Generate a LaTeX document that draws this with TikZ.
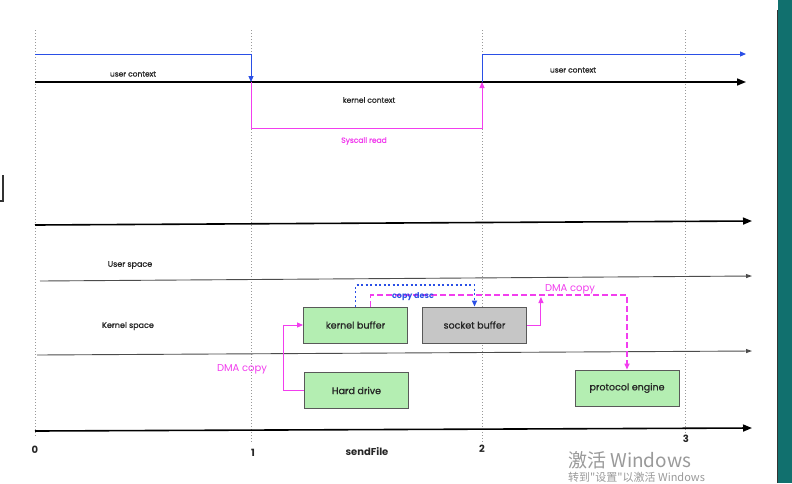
\documentclass[tikz,border=0pt]{standalone}
\usepackage{fontspec}
\setmainfont{Poppins}
\newfontfamily\medfont{Poppins}[FakeBold=0.8]
\newfontfamily\cjk{Noto Sans CJK SC}
\usetikzlibrary{arrows.meta}
\definecolor{boxgreen}{HTML}{B4EEB2}
\definecolor{boxgray}{HTML}{C6C6C6}
\definecolor{pinkc}{HTML}{F23EEE}
\definecolor{bluec}{HTML}{2A4FE6}
\definecolor{tealbar}{HTML}{11706E}
\definecolor{wm}{HTML}{9A9A9A}
\begin{document}
\begin{tikzpicture}[x=1pt,y=-1pt,
  tick/.style={draw=gray!80, line width=0.9pt, dash pattern=on 1pt off 2pt},
  axis/.style={draw=black, line width=1.6pt, -{Triangle[length=9pt,width=7pt]}},
  thinaxis/.style={draw=black!70, line width=0.9pt, -{Triangle[length=6pt,width=4pt]}},
  bluepath/.style={draw=bluec, line width=1pt, -{Triangle[length=6pt,width=5pt]}},
  pinkpath/.style={draw=pinkc, line width=1pt, -{Triangle[length=6pt,width=5pt]}},
  pinkdash/.style={color=pinkc, line width=1.6pt, dash pattern=on 6pt off 3pt, -{Triangle[length=6pt,width=5pt]}},
  bluedot/.style={color=bluec, line width=1.6pt, dash pattern=on 2pt off 2.5pt, -{Triangle[length=6pt,width=5pt]}},
  lbl/.style={font=\medfont\fontsize{7.5}{8}\selectfont, text=black!85},
  spacelbl/.style={font=\medfont\fontsize{8}{9}\selectfont, text=black!85},
  ticklbl/.style={font=\bfseries\fontsize{10}{11}\selectfont, text=black!85},
  pinklbl/.style={font=\fontsize{10}{11}\selectfont, text=pinkc},
  boxnode/.style={draw=black!65, line width=0.9pt, fill=boxgreen, minimum width=104pt, minimum height=36pt, inner sep=0pt, font=\medfont\fontsize{9.5}{11}\selectfont, text=black!85}
]
\useasboundingbox (0,0) rectangle (792,483);
\clip (0,0) rectangle (792,483);
\fill[white] (0,0) rectangle (792,483);
% right edge bar
\fill[tealbar] (778,0) rectangle (792,483);
\draw[black!80, line width=1pt] (777.5,10) -- (777.5,483);
% left bracket fragment
\draw[black!80, line width=1.3pt] (0,201) -- (3,201) -- (3,175);

% time ticks
\coordinate (c0t) at (35,30);  \coordinate (c0b) at (35,436);
\coordinate (c1t) at (251,30); \coordinate (c1b) at (251,442);
\coordinate (c2t) at (482,30); \coordinate (c2b) at (482,442);
\coordinate (c3t) at (685,30); \coordinate (c3b) at (685,442);
\draw[tick] (c0t) -- (c0b);
\draw[tick] (c1t) -- (c1b);
\draw[tick] (c2t) -- (c2b);
\draw[tick] (c3t) -- (c3b);

% context axis
\coordinate (ax0) at (35,82);  \coordinate (ax1) at (746,82);
\coordinate (k1) at (251,82);  \coordinate (k2) at (482,82);
\coordinate (u0) at (35,54);   \coordinate (u1) at (251,54);
\coordinate (u2) at (482,54);  \coordinate (u3) at (746,54);
\coordinate (s1) at (251,128); \coordinate (s2) at (482,128);
\draw[axis] (ax0) -- (ax1);
\draw[bluepath] (u0) -- (u1) -- (k1);
\draw[bluepath] (k2) -- (u2) -- (u3);
\draw[pinkpath] (k1) -- (s1) -- (s2) -- (k2);
\node[lbl] (ucl) at (133,74) {user context};
\node[lbl] (kcl) at (369,100) {kernel context};
\node[lbl] (ucr) at (573,70) {user context};
\node[lbl, text=pinkc] (sys) at (364,141) {Syscall read};

% space axes
\coordinate (m0) at (35,225);  \coordinate (m1) at (752,221);
\coordinate (us0) at (40,281); \coordinate (us1) at (752,276);
\coordinate (ks0) at (37,355); \coordinate (ks1) at (752,351);
\coordinate (b0) at (35,431);  \coordinate (b1) at (752,428);
\draw[axis] (m0) -- (m1);
\draw[thinaxis] (us0) -- (us1);
\draw[thinaxis] (ks0) -- (ks1);
\draw[axis] (b0) -- (b1);
\node[spacelbl] (usl) at (130,265) {User space};
\node[spacelbl] (ksl) at (128,326) {Kernel space};

% boxes
\node[boxnode] (kb) at (355.5,325) {kernel buffer};
\node[boxnode, fill=boxgray] (sb) at (474.5,325) {socket buffer};
\node[boxnode] (hd) at (356.5,390.5) {Hard drive};
\node[boxnode] (pe) at (627,388) {protocol engine};

% connectors
\draw[pinkpath] (hd.west) -- ++(-21,0) |- (kb.west);
\node[pinklbl] (dma1) at (242,369) {DMA copy};
\draw[pinkdash] ([xshift=15pt]kb.north) -- ++(0,-11.5) -| (pe.north);
\draw[bluedot] (kb.north) -- ++(0,-21.5) -| (sb.north);
\node[font=\bfseries\fontsize{8}{9}\selectfont, text=bluec, inner sep=1pt] (cd) at (413,297) {copy desc};
\draw[pinkpath] (sb.east) -- ++(14,0) -- ++(0,-28);
\node[pinklbl] (dma2) at (570,289) {DMA copy};

% tick labels
\node[ticklbl] (l0) at (35,450) {0};
\node[ticklbl] (l1) at (253,453) {1};
\node[ticklbl] (sf) at (367,452) {sendFile};
\node[ticklbl] (l2) at (482,449) {2};
\node[ticklbl] (l3) at (686,439) {3};

% watermark
\node[anchor=west, inner sep=0pt, text=wm, font=\cjk\fontsize{19}{21}\selectfont] (wm1) at (568,460) {激活 Windows};
\node[anchor=west, inner sep=0pt, text=wm, font=\cjk\fontsize{11}{13}\selectfont] (wm2) at (568,477) {转到"设置"以激活 Windows};
\end{tikzpicture}
\end{document}
